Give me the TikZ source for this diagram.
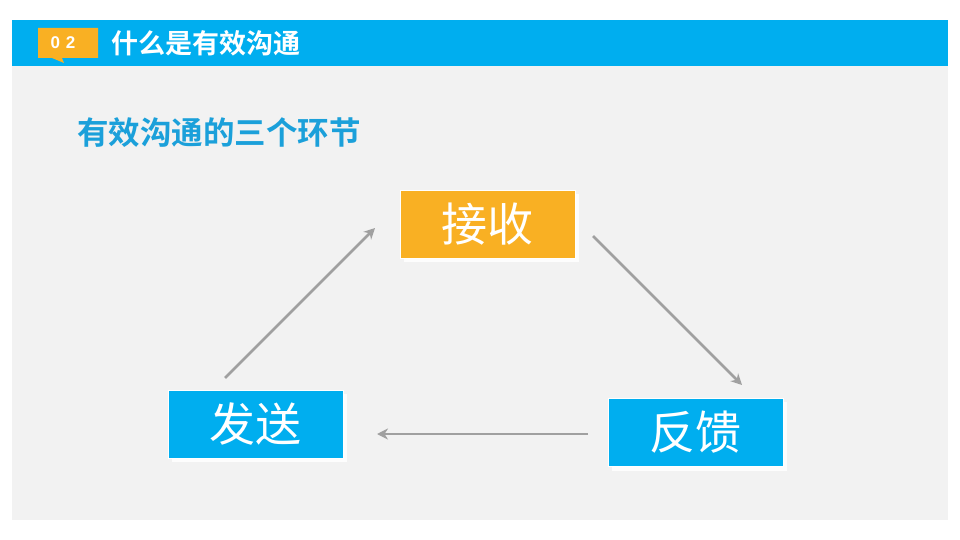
\documentclass[tikz,border=0pt]{standalone}
\usepackage{fontspec}
\setmainfont{Liberation Sans}
\newfontfamily\cjk{Noto Sans CJK SC}
\newfontfamily\cjkb{Noto Sans CJK SC Bold}
\usetikzlibrary{arrows.meta}
\definecolor{barblue}{RGB}{0,174,239}
\definecolor{tagorange}{RGB}{249,176,35}
\definecolor{subblue}{RGB}{27,160,218}
\definecolor{panel}{RGB}{242,242,242}
\definecolor{arrowgray}{RGB}{160,160,160}
\tikzset{
  stagebox/.style={minimum width=175pt, minimum height=68pt, inner sep=0pt,
    draw=white, line width=0.8pt, text=white, font=\cjk\fontsize{46}{46}\selectfont},
  flow/.style={draw=arrowgray, line width=2.6pt, -{Stealth[length=11pt,width=11pt]}}
}
\begin{document}
\begin{tikzpicture}[x=1pt,y=-1pt]
\useasboundingbox (0,0) rectangle (960,540);
\fill[white] (0,0) rectangle (960,540);
\fill[panel] (12,20) rectangle (948,520);
\fill[barblue] (12,20) rectangle (948,66);
% tag
\fill[tagorange] (38,28) -- (98,28) -- (98,58) -- (62,58) -- (64,63) -- (52,58) -- (38,58) -- cycle;
\node[text=white, font=\bfseries\fontsize{17}{17}\selectfont, anchor=center] (tag) at (63,43) {0\,\,2};
\node[text=white, font=\cjkb\fontsize{27}{27}\selectfont, anchor=west, inner sep=0pt] (title) at (111,43) {什么是有效沟通};
\node[text=subblue, font=\cjkb\fontsize{31.5}{31.5}\selectfont, anchor=west, inner sep=0pt] (sub) at (77,133) {有效沟通的三个环节};
% shadows
\fill[white!85!panel] (404,194) rectangle (579,262);
\fill[white!85!panel] (172,394) rectangle (347,462);
\fill[white!85!panel] (612,402) rectangle (787,471);
\node[stagebox, fill=tagorange] (recv) at (487.5,224) {接收};
\node[stagebox, fill=barblue] (send) at (255.5,424) {发送};
\node[stagebox, fill=barblue] (fb) at (695.5,432.5) {反馈};
\draw[flow] (225,378) -- (375,228);
\draw[flow] (593,236) -- (742,385);
\draw[flow] (588,434) -- (377,434);
\end{tikzpicture}
\end{document}
